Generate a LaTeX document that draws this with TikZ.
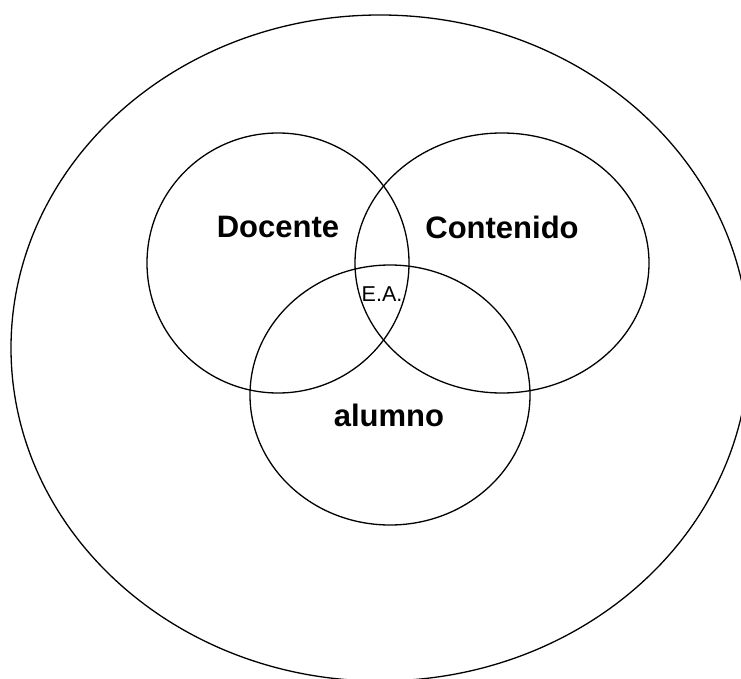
\documentclass[tikz,border=0pt]{standalone}
\usepackage{fontspec}
\setmainfont{Liberation Sans}
\begin{document}
\begin{tikzpicture}[x=1pt,y=-1pt,
  ring/.style={draw=black,line width=1.3pt},
  big/.style={font=\fontsize{31}{36}\selectfont\bfseries},
  small/.style={font=\fontsize{21.5}{24}\selectfont}]
\useasboundingbox (0,0) rectangle (741,679);
\clip (0,0) rectangle (741,679);
\draw[ring] (380,348) ellipse [x radius=369, y radius=333];
\draw[ring] (278,263) ellipse [x radius=131, y radius=130];
\draw[ring] (502,263) ellipse [x radius=147, y radius=130];
\draw[ring] (390,395) ellipse [x radius=140, y radius=130];
\node[big] (doc) at (278,227) {Docente};
\node[big] (con) at (502,227) {Contenido};
\node[big] (alu) at (389,415) {alumno};
\node[small,anchor=west,inner sep=0pt] (ea) at (361.5,294.5) {E.A.};
\end{tikzpicture}
\end{document}
